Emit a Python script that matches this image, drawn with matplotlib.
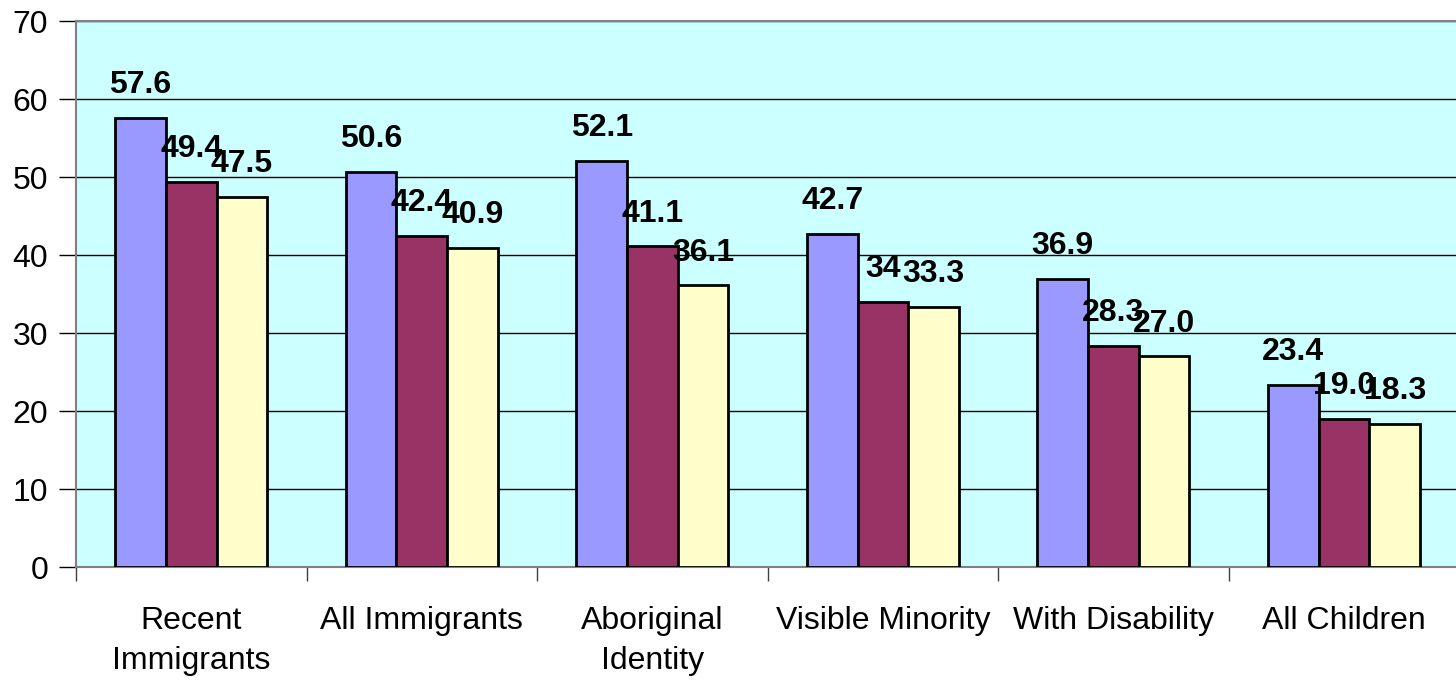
import numpy as np
import matplotlib
matplotlib.use('Agg')
import matplotlib.pyplot as plt

plt.rcParams['font.family'] = ['Liberation Sans', 'DejaVu Sans']

# --- data ---
categories = ['Recent\nImmigrants', 'All Immigrants', 'Aboriginal\nIdentity',
              'Visible Minority', 'With Disability', 'All Children']
series_a = [57.6, 50.6, 52.1, 42.7, 36.9, 23.4]
series_b = [49.4, 42.4, 41.1, 34.0, 28.3, 19.0]
series_c = [47.5, 40.9, 36.1, 33.3, 27.0, 18.3]
labels_a = ['57.6', '50.6', '52.1', '42.7', '36.9', '23.4']
labels_b = ['49.4', '42.4', '41.1', '34', '28.3', '19.0']
labels_c = ['47.5', '40.9', '36.1', '33.3', '27.0', '18.3']

colors = ['#9999FF', '#993366', '#FFFFCC']

fig = plt.figure(figsize=(14.56, 6.81), dpi=100)
ax = fig.add_axes([0.0522, 0.1674, 0.95, 0.8016])
ax.set_facecolor('#CCFFFF')

x = np.arange(len(categories))
w = 0.22
for off, vals, labs, col in [(-w, series_a, labels_a, colors[0]),
                             (0, series_b, labels_b, colors[1]),
                             (w, series_c, labels_c, colors[2])]:
    ax.bar(x + off, vals, width=w, color=col, edgecolor='black',
           linewidth=2.0, zorder=3)
    for xi, v, s in zip(x + off, vals, labs):
        ax.text(xi, v + 2.3, s, ha='center', va='bottom', fontsize=23,
                fontweight='bold', zorder=4)

ax.set_ylim(0, 70)
ax.set_xlim(-0.5, 5.5)
ax.set_yticks(range(0, 71, 10))
ax.yaxis.grid(True, color='black', linewidth=1.0, zorder=0)
ax.set_axisbelow(True)
ax.tick_params(axis='y', labelsize=23, length=12, width=1, pad=8)

ax.set_xticks(np.arange(-0.5, 6.0, 1.0))
ax.set_xticklabels([])
ax.set_xticks(x, minor=True)
ax.set_xticklabels(categories, minor=True, fontsize=23, linespacing=1.45)
ax.tick_params(axis='x', which='major', length=10, width=1, color='#404040')
ax.tick_params(axis='x', which='minor', length=0, pad=28)

for sp in ['left', 'bottom', 'top', 'right']:
    ax.spines[sp].set_color('#808080')
    ax.spines[sp].set_linewidth(1.5)

fig.savefig('out.png', dpi=100)
